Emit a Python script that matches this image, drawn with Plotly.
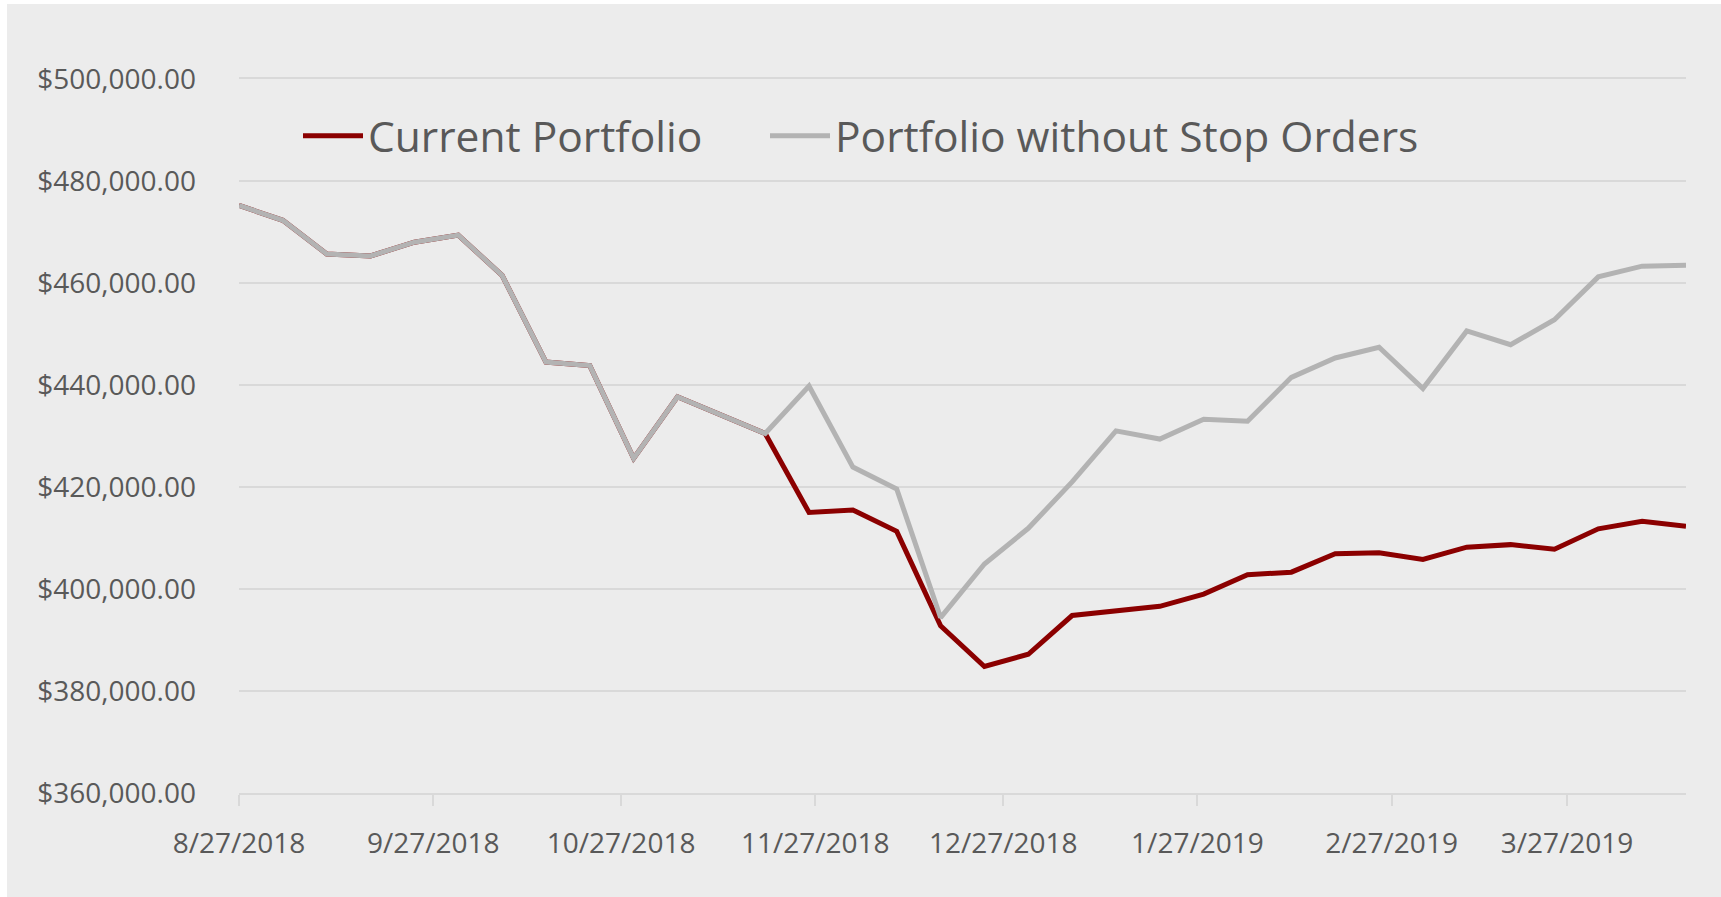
import plotly.graph_objects as go

dates = [
    "2018-08-27", "2018-09-03", "2018-09-10", "2018-09-17", "2018-09-24",
    "2018-10-01", "2018-10-08", "2018-10-15", "2018-10-22", "2018-10-29",
    "2018-11-05", "2018-11-12", "2018-11-19", "2018-11-26", "2018-12-03",
    "2018-12-10", "2018-12-17", "2018-12-24", "2018-12-31", "2019-01-07",
    "2019-01-14", "2019-01-21", "2019-01-28", "2019-02-04", "2019-02-11",
    "2019-02-18", "2019-02-25", "2019-03-04", "2019-03-11", "2019-03-18",
    "2019-03-25", "2019-04-01", "2019-04-08", "2019-04-15",
]

current_portfolio = [
    475200, 472300, 465700, 465300, 468000, 469400, 461500, 444500, 443800,
    425600, 437700, 434100, 430500, 415000, 415500, 411300, 392800, 384800,
    387200, 394800, 395700, 396600, 399000, 402800, 403300, 406900, 407100,
    405800, 408200, 408700, 407800, 411800, 413300, 412300,
]

without_stops = [
    475200, 472300, 465700, 465300, 468000, 469400, 461500, 444500, 443800,
    425600, 437700, 434100, 430500, 439800, 423900, 419600, 394400, 404900,
    411900, 421000, 431000, 429400, 433300, 432900, 441500, 445300, 447400,
    439300, 450600, 447900, 452800, 461200, 463300, 463500,
]

series_names = ["Current Portfolio", "Portfolio without Stop Orders"]
x_tick_dates = ["2018-08-27", "2018-09-27", "2018-10-27", "2018-11-27",
                "2018-12-27", "2019-01-27", "2019-02-27", "2019-03-27"]
x_tick_labels = ["8/27/2018", "9/27/2018", "10/27/2018", "11/27/2018",
                 "12/27/2018", "1/27/2019", "2/27/2019", "3/27/2019"]
y_ticks = [360000, 380000, 400000, 420000, 440000, 460000, 480000, 500000]

RED = "#8B0000"
GRAY = "#B3B3B3"
BG = "#ECECEC"
GRID = "#D9D9D9"
TXT = "#595959"
FONT = "Open Sans, Noto Sans, sans-serif"

W, H = 1721, 897
ML, MR, MT, MB = 239, 35, 79, 104
PW, PH = W - ML - MR, H - MT - MB


def px_x(p):
    return (p - ML) / PW


def px_y(p):
    return (H - MB - p) / PH


fig = go.Figure()
fig.add_trace(go.Scatter(
    x=dates, y=current_portfolio, name=series_names[0], mode="lines",
    line=dict(color=RED, width=5), legend="legend", hoverinfo="x+y",
))
fig.add_trace(go.Scatter(
    x=dates, y=without_stops, name=series_names[1], mode="lines",
    line=dict(color=GRAY, width=5), legend="legend2", hoverinfo="x+y",
))

legend_common = dict(
    orientation="h", bgcolor="rgba(0,0,0,0)", borderwidth=0,
    font=dict(family=FONT, size=42.5, color=TXT, weight=400),
    xref="paper", yref="paper", xanchor="left", yanchor="middle",
    itemwidth=60, tracegroupgap=0,
)

fig.update_layout(
    width=W, height=H, autosize=False,
    margin=dict(l=ML, r=MR, t=MT, b=MB, pad=0),
    paper_bgcolor=BG, plot_bgcolor=BG,
    font=dict(family=FONT, color=TXT),
    showlegend=True,
    legend=dict(x=px_x(298), y=px_y(136), **legend_common),
    legend2=dict(x=px_x(765), y=px_y(136), **legend_common),
    xaxis=dict(
        type="date",
        range=["2018-08-27", "2019-04-15"],
        tickvals=x_tick_dates, ticktext=x_tick_labels,
        showgrid=False, zeroline=False,
        showline=True, mirror=True, linecolor=GRID, linewidth=1.5,
        ticks="outside", ticklen=11, tickwidth=1.5, tickcolor=GRID,
        tickfont=dict(family=FONT, size=28, color=TXT, weight=400),
        ticklabelstandoff=14,
    ),
    yaxis=dict(
        range=[360000, 500000],
        tickvals=y_ticks,
        tickformat="$,.2f",
        showgrid=True, gridcolor=GRID, gridwidth=1.5,
        zeroline=False, showline=False, ticks="",
        tickfont=dict(family=FONT, size=28, color=TXT, weight=400),
        ticklabelstandoff=42,
    ),
    shapes=[
        dict(type="rect", xref="paper", yref="paper", layer="below",
             x0=px_x(0), x1=px_x(7), y0=px_y(H), y1=px_y(0),
             fillcolor="white", line=dict(width=0)),
        dict(type="rect", xref="paper", yref="paper", layer="below",
             x0=px_x(0), x1=px_x(W), y0=px_y(4), y1=px_y(0),
             fillcolor="white", line=dict(width=0)),
    ],
)

fig.write_html(
    "out.html",
    include_plotlyjs=True,
    config={"displayModeBar": False},
    post_script="document.body.style.margin='0';document.body.style.overflow='hidden';",
)
